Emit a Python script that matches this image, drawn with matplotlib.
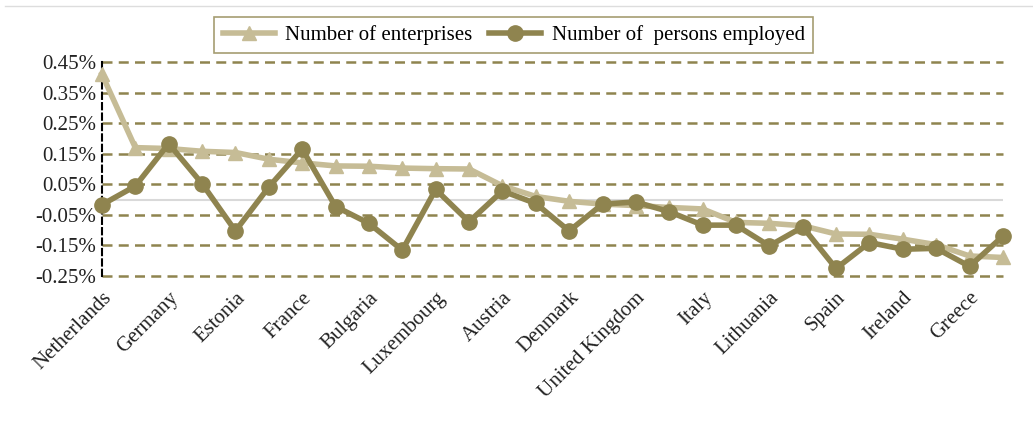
import numpy as np
import matplotlib.pyplot as plt
import matplotlib.ticker as mticker
from matplotlib.lines import Line2D

plt.rcParams['font.family'] = ['Liberation Serif', 'DejaVu Serif']

# labels shown under every second point
labels = ['Netherlands', 'Germany', 'Estonia', 'France', 'Bulgaria', 'Luxembourg',
          'Austria', 'Denmark', 'United Kingdom', 'Italy', 'Lithuania', 'Spain',
          'Ireland', 'Greece']

# values in %
enterprises = [0.41, 0.170, 0.167, 0.158, 0.154, 0.132, 0.120, 0.110, 0.109, 0.103,
               0.101, 0.100, 0.045, 0.010, -0.006, -0.015, -0.020, -0.026, -0.031,
               -0.075, -0.078, -0.086, -0.113, -0.114, -0.130, -0.148, -0.185, -0.190]
persons = [-0.017, 0.044, 0.183, 0.052, -0.103, 0.041, 0.165, -0.023, -0.078, -0.166,
           0.033, -0.073, 0.028, -0.013, -0.103, -0.015, -0.008, -0.040, -0.084,
           -0.084, -0.152, -0.090, -0.226, -0.141, -0.163, -0.160, -0.219, -0.120]

light = '#C6BC96'
dark = '#8F844F'

x = np.arange(len(enterprises))

fig = plt.figure(figsize=(10.33, 4.23), dpi=100)
ax = fig.add_axes([0.0987, 0.348, 0.8722, 0.505])

ax.axhline(0, color='#D9D9D9', lw=1.5, zorder=1)
for v in np.arange(-0.25, 0.46, 0.1):
    ax.axhline(v, color=dark, lw=1.8, ls=(0, (4, 2.5)), zorder=1, clip_on=False)

ax.plot(x, enterprises, color=light, lw=4, marker='^', ms=10, zorder=3,
        clip_on=False, label='Number of enterprises')
ax.plot(x, persons, color=dark, lw=4, marker='o', ms=11, zorder=4,
        clip_on=False, label='Number of  persons employed')

ax.set_xlim(0, len(x) - 1)
ax.set_ylim(-0.25, 0.45)
ax.yaxis.set_major_locator(mticker.FixedLocator(np.arange(-0.25, 0.46, 0.1)))
ax.yaxis.set_major_formatter(mticker.FuncFormatter(lambda v, p: '%.2f%%' % v))
ax.set_xticks(x[::2])
ax.set_xticklabels(labels, rotation=45, ha='right', rotation_mode='anchor')
ax.tick_params(axis='both', length=0, labelsize=15, colors='#222222')
ax.tick_params(axis='x', pad=9)
ax.tick_params(axis='y', pad=4)

for s in ['top', 'right', 'bottom']:
    ax.spines[s].set_visible(False)
ax.spines['left'].set_linestyle((0, (3, 2)))
ax.spines['left'].set_linewidth(1.5)
ax.spines['left'].set_color('black')
ax.spines['left'].set_zorder(2)

leg = ax.legend(loc='center', bbox_to_anchor=(0.457, 1.127), ncol=2,
                fontsize=15, frameon=True, fancybox=False, handlelength=2.5,
                columnspacing=0.8, borderpad=0.4, handletextpad=0.5)
leg.get_frame().set_edgecolor(dark)
leg.get_frame().set_linewidth(1.2)

fig.add_artist(Line2D([0.005, 1.0], [0.986, 0.986], color='#DDDDDD', lw=1))

fig.savefig('out.png', dpi=100)
